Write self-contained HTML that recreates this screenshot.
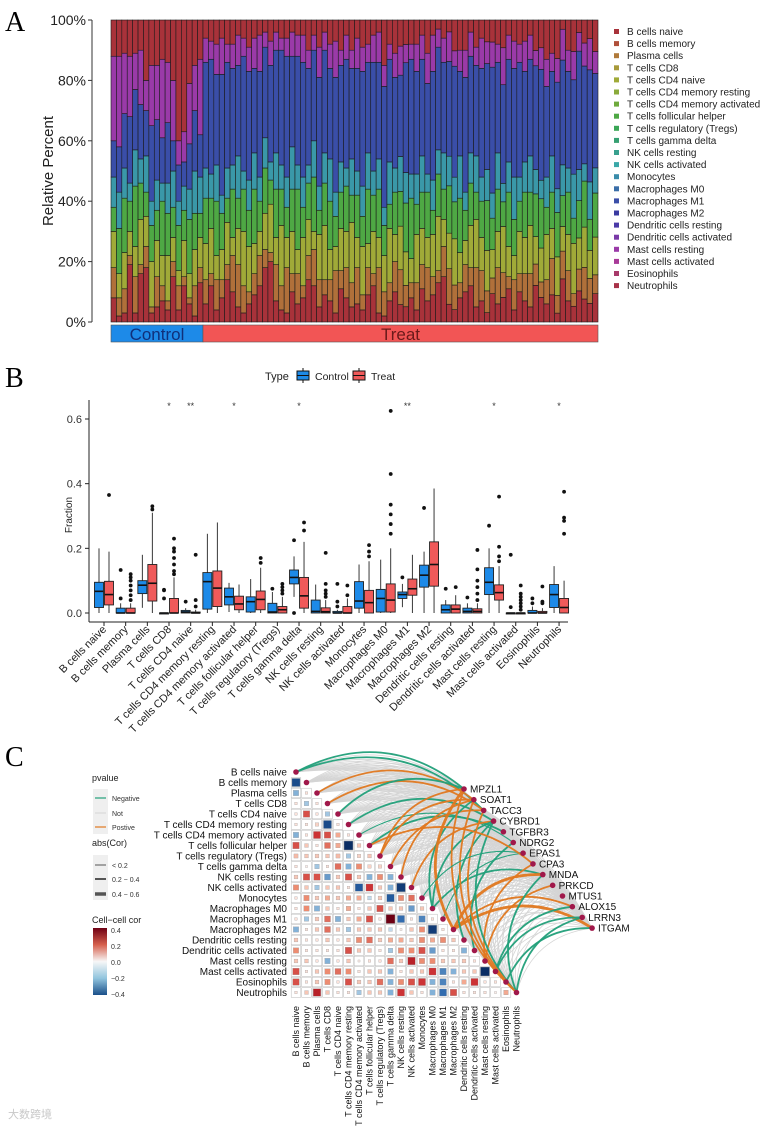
<!DOCTYPE html>
<html><head><meta charset="utf-8"><style>
html,body{margin:0;padding:0;background:#fff;}
svg{display:block;font-family:"Liberation Sans",Arial,sans-serif;}
</style></head><body>
<svg id="fig" width="762" height="1131" viewBox="0 0 762 1131">
<g id="pa"></g>
<g id="pb"></g>
<g id="pc"></g>
</svg>
<script>
const NS="http://www.w3.org/2000/svg";
function mk(parent,tag,attrs,text){const e=document.createElementNS(NS,tag);for(const k in attrs)e.setAttribute(k,attrs[k]);if(text!==undefined)e.textContent=text;parent.appendChild(e);return e;}

/* ================= PANEL A data ================= */
const cellTypes=["B cells naive","B cells memory","Plasma cells","T cells CD8","T cells CD4 naive","T cells CD4 memory resting","T cells CD4 memory activated","T cells follicular helper","T cells regulatory (Tregs)","T cells gamma delta","NK cells resting","NK cells activated","Monocytes","Macrophages M0","Macrophages M1","Macrophages M2","Dendritic cells resting","Dendritic cells activated","Mast cells resting","Mast cells activated","Eosinophils","Neutrophils"];
const legendColors=["#a8323a","#b0503a","#b07a3a","#a89a3a","#a0aa38","#8aaa3a","#6eaa3c","#4ea844","#3aa656","#36a072","#38a08e","#3aa8a8","#3a8caa","#3a6ea8","#3a4ea8","#3a3aa0","#4a3aa8","#7a3aa8","#9a3aa8","#a83a98","#a83a6a","#a83248"];
const nControl=17;
const bCells=[8,2,3,19,3,16,18,3,5,7,4,15,4,12,6,2,13, 6,12,4,8,14,10,5,3,6,9,12,18,20,7,4,3,10,6,8,14,12,5,9,7,3,11,8,5,6,4,9,12,3,2,7,10,6,5,8,4,11,7,9,13,15,6,4,8,10,12,5,7,3,9,6,8,11,4,10,7,5,12,8,6,9,3,14,7,5,10,8,6,9];
const plasmaCd8=[10,6,8,3,12,3,7,2,10,5,3,5,8,3,2,10,5, 8,4,10,6,5,12,14,9,4,7,10,6,3,12,8,15,6,10,4,8,12,9,5,7,14,6,10,8,12,5,9,4,15,8,6,10,12,7,5,9,8,11,6,4,10,12,8,5,9,6,13,10,7,5,12,8,4,10,6,9,11,7,5,8,12,6,9,10,4,7,11,8,6];
const cd4Cells=[12,8,12,8,10,15,10,15,12,10,15,8,5,12,8,12,10, 12,15,8,10,14,6,12,18,15,10,8,12,16,9,20,10,14,8,16,12,6,15,18,10,8,14,12,20,10,16,8,14,10,12,18,9,15,11,8,16,12,10,14,18,9,12,15,10,8,14,16,11,13,9,12,15,10,8,14,12,16,9,11,15,10,13,8,12,16,10,14,9,12];
const otherT=[8,15,18,10,20,12,8,12,10,18,14,10,15,10,18,12,8, 15,10,18,12,8,16,10,14,12,18,10,15,8,16,12,10,14,20,10,12,18,8,14,16,10,12,15,9,14,10,18,12,16,10,8,14,12,16,20,10,12,15,8,14,10,16,12,18,10,14,9,12,16,10,14,8,18,12,10,15,11,14,16,9,12,15,10,14,8,12,16,10,14];
const nkMono=[10,12,10,6,12,8,12,8,10,6,10,12,8,8,10,14,12, 10,8,12,6,10,8,14,6,10,12,8,10,6,12,8,10,14,8,10,6,12,8,10,14,8,10,6,12,8,10,12,8,10,6,14,8,12,10,8,10,12,6,10,8,12,10,8,14,6,10,12,8,10,8,12,6,10,14,8,10,12,8,6,10,12,8,10,8,14,10,6,12,8];
const macrophages=[12,15,18,22,20,18,15,25,20,15,20,10,12,8,15,20,14, 35,38,30,40,35,32,30,38,36,28,35,30,32,34,38,40,30,36,38,32,30,36,34,30,38,32,36,30,34,38,30,36,32,40,34,30,28,36,38,34,32,30,36,34,30,32,36,28,38,32,30,36,34,40,30,32,34,36,38,30,32,34,36,30,28,36,34,32,30,38,34,36,30];
const dcMast=[28,30,20,20,12,18,10,20,18,26,20,20,8,10,20,15,25, 8,6,10,12,6,8,10,6,8,10,12,5,8,6,4,6,8,7,9,6,5,10,6,8,12,5,8,6,10,8,6,9,10,7,5,8,10,6,5,9,8,10,12,6,8,10,5,7,9,8,6,10,7,8,6,12,8,9,6,10,8,5,7,9,6,8,10,7,9,6,8,10,7];
const eosNeut=[12,12,11,12,11,10,20,15,15,13,14,20,40,37,21,15,13, 6,7,8,6,8,8,5,6,9,6,5,4,7,4,6,6,4,5,5,10,5,9,4,8,7,10,5,10,6,9,8,5,4,15,8,11,9,8,8,8,5,11,5,3,6,4,10,10,10,4,9,6,7,7,8,9,5,7,8,7,5,10,9,13,11,13,3,10,10,4,8,6,10];
const layers=[bCells,plasmaCd8,cd4Cells,otherT,nkMono,macrophages,dcMast,eosNeut];
const layerColors=["#a8323a","#b0703a","#a0aa38","#4ea844","#3a98a8","#3a4ea8","#9a3aa8","#a8323a"];
const layerNames=["bar-b-cells","bar-plasma-cd8","bar-cd4","bar-other-t","bar-nk-mono","bar-macrophages","bar-dc-mast","bar-eos-neut"];
const pctTicks=["0%","20%","40%","60%","80%","100%"];

/* ================= PANEL B data ================= */
const ctrlStats=[[0,.017,.067,.095,.2],[0,0,0,.015,.03],[.016,.06,.086,.1,.18],[0,0,0,0,0],[0,0,.003,.008,.015],[0,.012,.097,.125,.245],[.003,.025,.05,.077,.093],[0,.003,.035,.05,.105],[0,0,.003,.03,.065],[.05,.09,.11,.133,.175],[0,0,.005,.04,.088],[0,0,0,.005,.01],[0,.015,.037,.097,.15],[0,.003,.045,.073,.165],[.018,.045,.057,.065,.09],[0,.08,.117,.148,.19],[0,0,.01,.025,.04],[0,0,.005,.015,.03],[0,.057,.095,.14,.2],[0,0,0,0,0],[0,0,0,.008,.02],[0,.017,.057,.088,.145]];
const treatStats=[[0,.025,.057,.098,.19],[0,0,0,.015,.03],[0,.037,.092,.15,.31],[0,0,0,.045,.11],[0,0,0,.003,.01],[0,.02,.077,.13,.28],[0,.01,.028,.052,.088],[0,.01,.042,.068,.14],[0,0,.01,.02,.05],[0,.015,.053,.11,.22],[0,0,.004,.016,.04],[0,0,0,.02,.045],[0,0,.032,.07,.16],[0,.003,.04,.09,.2],[0,.055,.075,.105,.18],[0,.083,.15,.22,.385],[0,0,.012,.025,.055],[0,0,.005,.013,.03],[0,.04,.063,.087,.145],[0,0,0,0,0],[0,0,0,.005,.015],[0,0,.017,.045,.1]];
const ctrlOutliers=[[],[.045,.133],[],[.045,.07,.072],[.035],[],[],[],[.075],[.225,0],[],[.02,.035,.09],[],[],[.11],[.325],[.075],[.048],[.27],[.018,.18],[.03,.045],[]];
const treatOutliers=[[.365],[.04,.055,.07,.085,.1,.11,.12],[.32,.33],[.12,.13,.15,.17,.19,.2,.23],[.02,.04,.18],[],[],[.155,.17],[.06,.07,.08,.09],[.255,.28],[.05,.06,.07,.09,.186],[.055,.085],[.175,.19,.21],[.245,.275,.305,.335,.43,.625],[],[],[.08],[.04,.06,.08,.1,.135,.195],[.16,.175,.205,.36],[.01,.02,.03,.04,.05,.06,.085],[.03,.035,.082],[.245,.285,.295,.375]];
const sigLabels=["","","","*","**","","*","","","*","","","","","**","","","","*","","","*"];
const fracTicks=[0,0.2,0.4,0.6];

/* ================= PANEL C data ================= */
const genes=["MPZL1","SOAT1","TACC3","CYBRD1","TGFBR3","NDRG2","EPAS1","CPA3","MNDA","PRKCD","MTUS1","ALOX15","LRRN3","ITGAM"];
const corRows=[[],[-0.45],[-0.2,0.05],[0.05,-0.15,0.05],[0.05,0.3,0.05,-0.15],[0.05,0.05,0.08,-0.45,0.05],[-0.2,0.05,0.35,0.3,0.15,0.05],[0.3,0.1,0.05,0.25,0.15,-0.55,0.1],[0.12,0.1,0.1,0.1,0.12,-0.15,0.08,0.1],[0.05,0.03,-0.15,0.05,0.25,-0.2,0.2,0.08,0.08],[0.1,0.3,0.3,-0.25,0.1,0.3,0.1,-0.2,0.2,-0.2],[0.2,0.1,-0.15,0.1,0.1,0.05,-0.4,0.35,0.1,-0.2,-0.5],[0.05,0.2,0.1,0.15,0.1,0.15,0.15,-0.1,0.1,-0.4,0.2,0.25],[0.05,0.2,-0.2,0.1,0.05,0.15,0.05,0.1,0.3,0.1,0.1,-0.25,0.1],[0.05,-0.15,0.1,0.25,-0.2,0.1,0.15,0.3,0.05,0.55,-0.35,0.05,-0.3,0.05],[-0.2,0.05,0.1,0.25,0.1,-0.15,0.1,0.1,0.1,-0.1,0.03,0.1,0.2,-0.5,0.05],[0.1,0.05,0.05,0.1,0.05,0.1,0.2,0.25,0.1,0.15,0.15,0.1,0.2,0.15,0.2,0.1],[0.2,0.05,0.05,0.05,0.05,0.3,0.1,0.1,0.05,-0.15,0.2,0.2,0.3,-0.25,0.05,0.05,-0.2],[0.1,0.1,0.05,-0.2,0.05,0.1,0.03,0.05,0.05,0.25,0.1,0.4,0.2,0.2,0.1,0.1,0.1,0.05],[0.3,0.05,0.1,0.2,0.25,0.2,0.05,0.1,0.1,-0.2,0.05,0.1,0.1,0.35,-0.3,-0.2,0.1,0.1,-0.55],[0.3,0.05,0.1,0.2,0.05,0.3,0.1,0.1,0.25,-0.2,0.2,0.3,0.35,-0.2,-0.3,0.05,0.15,0.35,0.05,0.05],[0.05,0.1,0.4,0.1,0.05,0.05,-0.15,0.1,0.1,-0.2,0.35,0.1,0.05,-0.2,-0.35,0.3,0.05,0.05,0.05,0.03,0.15]];
const sigEdges=[[0,0,-1,2],[0,2,-1,2],[2,1,1,2],[3,2,1,2],[4,0,-1,2],[5,3,-1,2],[6,5,-1,1],[7,4,-1,2],[8,0,1,2],[8,1,1,2],[9,2,1,2],[10,1,1,2],[11,3,1,2],[13,1,-1,2],[13,3,-1,2],[13,8,-1,2],[14,6,-1,1],[15,0,1,3],[15,8,1,3],[15,11,1,2],[15,13,1,3],[16,3,-1,2],[17,5,-1,2],[18,7,1,2],[18,9,1,2],[19,11,-1,2],[19,12,-1,2],[20,13,-1,2],[21,0,1,2],[21,1,1,2],[21,3,-1,2],[21,8,-1,2],[21,12,-1,2],[21,2,1,2],[12,6,-1,1],[7,7,1,2]];

/* ================= DRAW PANEL A ================= */
(function(){
const g=document.getElementById('pa');
const t=mk(g,'text',{x:5,y:31,'font-family':'"Liberation Serif",serif','font-size':28},'A');


const x0=111,x1=598,yTop=20,yBot=322;
const N=bCells.length,bw=(x1-x0)/N;
const yS=v=>yBot-(yBot-yTop)*v/100;
const ax=mk(g,'line',{x1:92,y1:yTop,x2:92,y2:yBot,stroke:'#333','stroke-width':1});


pctTicks.forEach((lab,i)=>{const y=yS(i*20);
 const tk=mk(g,'line',{x1:88,y1:y,x2:92,y2:y,stroke:'#333'});
 
 
 const tl=mk(g,'text',{x:86,y:y+5,'text-anchor':'end','font-size':14,fill:'#222'},lab);
 
 });
const yt=mk(g,'text',{transform:'translate(53,171) rotate(-90)','text-anchor':'middle','font-size':15,fill:'#222'},'Relative Percent');


for(let i=0;i<N;i++){
 let tot=0;layers.forEach(L=>tot+=(L[i]||0));
 let acc=0;
 layers.forEach((L,k)=>{const v=(L[i]||0)/tot*100;
  const r=mk(g,'rect',{x:x0+i*bw,y:yS(acc+v),width:bw,height:yS(acc)-yS(acc+v),fill:layerColors[k],stroke:'#1a1a1a','stroke-width':0.6});
  
  
  acc+=v;});
}
const cw=nControl*bw;
const gc=mk(g,'rect',{x:x0,y:325,width:cw,height:17,fill:'#1d8ae8',stroke:'#555','stroke-width':0.6});


const gt=mk(g,'rect',{x:x0+cw,y:325,width:x1-x0-cw,height:17,fill:'#f25555',stroke:'#555','stroke-width':0.6});


const l1=mk(g,'text',{x:x0+cw/2,y:340,'text-anchor':'middle','font-size':17,fill:'#10307a'},'Control');


const l2=mk(g,'text',{x:x0+cw+(x1-x0-cw)/2,y:340,'text-anchor':'middle','font-size':17,fill:'#6a1a1a'},'Treat');


cellTypes.forEach((n,i)=>{const y=33+i*12.1;
 const ge=mk(g,'g',{});
 
 
 mk(ge,'rect',{x:614,y:y-4,width:5,height:5,fill:legendColors[i]});
 mk(ge,'text',{x:627,y:y+2,'font-size':10,fill:'#222'},n);});
})();

/* ================= DRAW PANEL B ================= */
(function(){
const g=document.getElementById('pb');
const t=mk(g,'text',{x:5,y:387,'font-family':'"Liberation Serif",serif','font-size':28},'B');


const y0=613,perUnit=(613-419)/0.6;
const yS=v=>y0-v*perUnit;
const xC=i=>104+i*21.67;
const lg=mk(g,'g',{});


mk(lg,'text',{x:265,y:380,'font-size':11,fill:'#222'},'Type');
[['#1d8ae8','Control',297],['#f05a5a','Treat',353]].forEach(([c,n,x])=>{
 const e=mk(lg,'g',{});
 
 
 mk(e,'line',{x1:x+6,y1:368,x2:x+6,y2:383,stroke:'#111'});
 mk(e,'rect',{x:x,y:371,width:12,height:9,fill:c,stroke:'#111'});
 mk(e,'line',{x1:x,y1:375.5,x2:x+12,y2:375.5,stroke:'#111'});
 mk(e,'text',{x:x+18,y:380,'font-size':10.5,fill:'#222'},n);});
const ya=mk(g,'line',{x1:89,y1:400,x2:89,y2:622,stroke:'#222'});


const xa=mk(g,'line',{x1:89,y1:622,x2:568,y2:622,stroke:'#222'});


fracTicks.forEach(v=>{const y=yS(v);
 mk(g,'line',{x1:85,y1:y,x2:89,y2:y,stroke:'#222'});
 const tl=mk(g,'text',{x:82,y:y+4,'text-anchor':'end','font-size':11,fill:'#333'},v.toFixed(1));
 
 });
const yt=mk(g,'text',{transform:'translate(72,515) rotate(-90)','text-anchor':'middle','font-size':10,fill:'#222'},'Fraction');


function box(cx,s,outs,col,nm){
 const bg=mk(g,'g',{});
 
 
 const w=9;
 mk(bg,'line',{x1:cx,y1:yS(s[0]),x2:cx,y2:yS(s[4]),stroke:'#222','stroke-width':0.9});
 mk(bg,'rect',{x:cx-w/2,y:yS(s[3]),width:w,height:Math.max(1,yS(s[1])-yS(s[3])),fill:col,stroke:'#222','stroke-width':0.9});
 mk(bg,'line',{x1:cx-w/2,y1:yS(s[2]),x2:cx+w/2,y2:yS(s[2]),stroke:'#111','stroke-width':1.6});
 outs.forEach(o=>mk(bg,'circle',{cx:cx,cy:yS(o),r:1.9,fill:'#111'}));
}
cellTypes.forEach((n,i)=>{const cx=xC(i);
 box(cx-5,ctrlStats[i],ctrlOutliers[i],'#1d8ae8','box-control');
 box(cx+5,treatStats[i],treatOutliers[i],'#f05a5a','box-treat');
 mk(g,'line',{x1:cx,y1:622,x2:cx,y2:626,stroke:'#222'});
 const tl=mk(g,'text',{transform:`translate(${cx+3},${630}) rotate(-45)`,'text-anchor':'end','font-size':11,fill:'#222'},n);
 
 
 if(sigLabels[i]){const s=mk(g,'text',{x:cx,y:409,'text-anchor':'middle','font-size':9,fill:'#333'},sigLabels[i]);
  
  }
});
})();

/* ================= DRAW PANEL C ================= */
(function(){
const g=document.getElementById('pc');
const t=mk(g,'text',{x:5,y:766,'font-family':'"Liberation Serif",serif','font-size':28},'C');


const st=10.5,cx0=296,cy0=772;
const px=i=>cx0+st*i, py=i=>cy0+st*i;
const gx=k=>464+k*9.85, gy=k=>789+k*10.7;
function colr(v){const a=Math.min(1,Math.abs(v)/0.55);
 const pos=[[255,255,255],[240,150,120],[200,40,45],[110,0,20]],neg=[[255,255,255],[140,185,220],[40,100,170],[10,45,100]];
 const P=v>=0?pos:neg;const f=a*3,i=Math.min(2,Math.floor(f)),r=f-i;
 const c=P[i].map((x,k)=>Math.round(x+(P[i+1][k]-x)*r));return `rgb(${c})`;}
function curve(i,k){const x1=px(i),y1=py(i),x2=gx(k),y2=gy(k);
 const mx=(x1+x2)/2,my=(y1+y2)/2,dx=x2-x1,dy=y2-y1;
 return `M${x1},${y1} Q${mx+dy*0.33},${my-dx*0.33} ${x2},${y2}`;}
const ge=mk(g,'g',{opacity:0.7});


for(let i=0;i<cellTypes.length;i++)for(let k=0;k<genes.length;k++)
 mk(ge,'path',{d:curve(i,k),fill:'none',stroke:'#c4c4c4','stroke-width':0.8});
corRows.forEach((row,i)=>{row.forEach((v,j)=>{
 const x=px(j),y=py(i);
 const c=mk(g,'rect',{x:x-4.8,y:y-4.8,width:9.6,height:9.6,fill:'#fff',stroke:'#bbb','stroke-width':0.5});
 
 
 const s=Math.max(1.5,Math.min(9,Math.sqrt(Math.abs(v))*12));
 const q=mk(g,'rect',{x:x-s/2,y:y-s/2,width:s,height:s,fill:colr(v),stroke:'#999','stroke-width':0.3});
 
 });});
sigEdges.forEach(e=>{const p=mk(g,'path',{d:curve(e[0],e[1]),fill:'none',stroke:e[2]>0?'#e07820':'#22a07a','stroke-width':[0,1.1,1.8,2.8][e[3]],opacity:0.95});
 
 });
cellTypes.forEach((n,i)=>{
 const tl=mk(g,'text',{x:287,y:py(i)+3.5,'text-anchor':'end','font-size':10,fill:'#111'},n);
 
 
 const d=mk(g,'circle',{cx:px(i),cy:py(i),r:2.8,fill:'#a0184a'});
 
 
 const bl=mk(g,'text',{transform:`translate(${px(i)+3},1006) rotate(-90)`,'text-anchor':'end','font-size':9,fill:'#111'},n);
 
 });
genes.forEach((n,k)=>{
 const d=mk(g,'circle',{cx:gx(k),cy:gy(k),r:2.8,fill:'#a0184a'});
 
 
 const tl=mk(g,'text',{x:gx(k)+6,y:gy(k)+3.5,'font-size':10,fill:'#111'},n);
 
 });
const L=mk(g,'g',{});


mk(L,'text',{x:92,y:781,'font-size':9,fill:'#222'},'pvalue');
mk(L,'rect',{x:93,y:789,width:15,height:45,fill:'#efefef'});
[['Negative','#22a07a',801],['Not','#d8d8d8',816],['Postive','#e07820',830]].forEach(([n,c,y])=>{
 const e=mk(L,'g',{});
 mk(e,'line',{x1:95,y1:y-3,x2:106,y2:y-3,stroke:c,'stroke-width':1.2});
 mk(e,'text',{x:112,y:y,'font-size':7,fill:'#333'},n);});
mk(L,'text',{x:92,y:846,'font-size':9,fill:'#222'},'abs(Cor)');
mk(L,'rect',{x:93,y:855,width:15,height:45,fill:'#efefef'});
[['< 0.2',1,868],['0.2 − 0.4',2,882],['0.4 − 0.6',3.5,897]].forEach(([n,w,y])=>{
 const e=mk(L,'g',{});
 mk(e,'line',{x1:95,y1:y-3,x2:106,y2:y-3,stroke:'#555','stroke-width':w});
 mk(e,'text',{x:112,y:y,'font-size':7,fill:'#333'},n);});
mk(L,'text',{x:92,y:923,'font-size':9,fill:'#222'},'Cell−cell cor');
const defs=mk(L,'defs',{});const lgd=mk(defs,'linearGradient',{id:'cg',x1:0,y1:0,x2:0,y2:1});
[[0,'#6e0014'],[0.25,'#d6604d'],[0.5,'#f7f7f7'],[0.75,'#92c5de'],[1,'#1a4f8a']].forEach(([o,c])=>mk(lgd,'stop',{offset:o,'stop-color':c}));
const cb=mk(L,'rect',{x:93,y:928,width:14,height:67,fill:'url(#cg)'});


['0.4','0.2','0.0','−0.2','−0.4'].forEach((n,i)=>mk(L,'text',{x:111,y:933+i*16,'font-size':7,fill:'#333'},n));
const wm=mk(g,'text',{x:8,y:1118,'font-size':11,fill:'#c8c8c8','font-family':'"Liberation Sans","Noto Sans CJK SC",sans-serif'},'大数跨境');


})();
</script>
</body></html>
